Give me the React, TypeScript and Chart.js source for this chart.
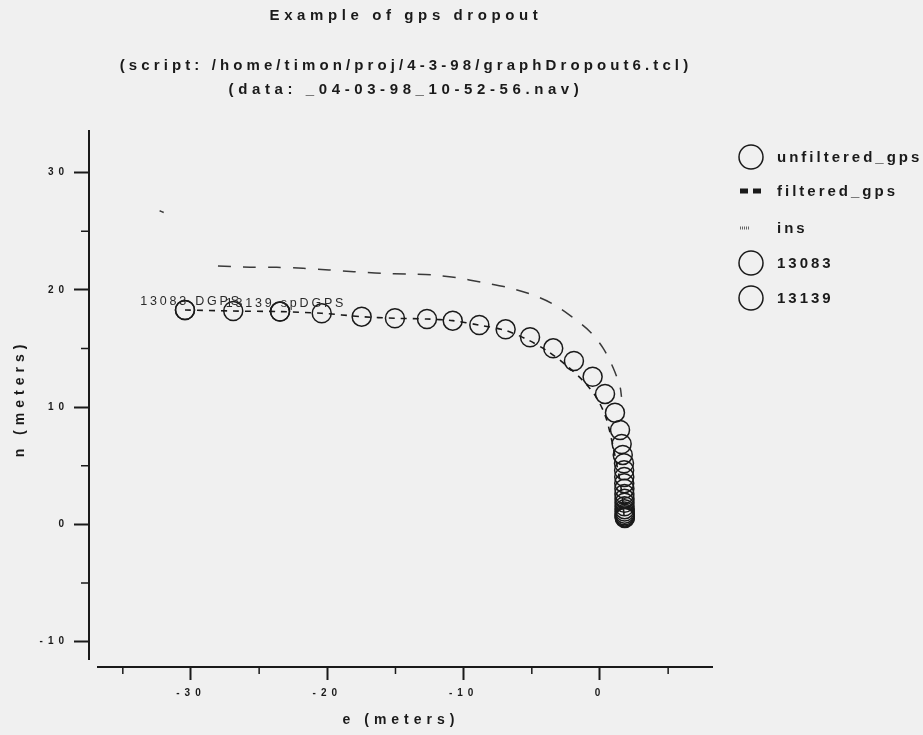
import { useEffect, useRef } from 'react';
import { Chart, registerables } from 'chart.js';

Chart.register(...registerables);

const FONT = '"Liberation Sans", Arial, Helvetica, sans-serif';
const PAPER = '#f0f0f0';
const INK = '#1a1a1a';

const titleLines = [
  'Example of gps dropout',
  '',
  '(script: /home/timon/proj/4-3-98/graphDropout6.tcl)',
  '(data: _04-03-98_10-52-56.nav)',
];

const xLabel = 'e (meters)';
const yLabel = 'n (meters)';

// axis ticks (labelled majors, unlabelled minors)
const xMajor = [-30, -20, -10, 0];
const xMinor = [-35, -25, -15, -5, 5];
const yMajor = [-10, 0, 10, 20, 30];
const yMinor = [-5, 5, 15, 25];

const seriesNames = ['unfiltered_gps', 'filtered_gps', 'ins', '13083', '13139'];

// raw gps fixes (east, north in meters)
const gpsE = [
  -30.44, -26.9, -23.47, -20.41, -17.48, -15.04, -12.69, -10.8, -8.85, -6.92,
  -5.13, -3.43, -1.91, -0.54, 0.37, 1.1, 1.47, 1.59, 1.67, 1.76,
  1.77, 1.78, 1.78, 1.79, 1.79, 1.8, 1.8, 1.8, 1.81, 1.81,
  1.81, 1.81, 1.82, 1.82, 1.82,
];
const gpsN = [
  18.29, 18.2, 18.15, 18.01, 17.72, 17.58, 17.52, 17.38, 17.01, 16.64,
  15.96, 15.02, 13.94, 12.6, 11.13, 9.53, 8.05, 6.86, 5.93, 5.22,
  4.62, 4.05, 3.52, 3.04, 2.6, 2.2, 1.85, 1.55, 1.3, 1.1,
  0.92, 0.78, 0.67, 0.6, 0.55,
];

// filtered gps track
const filtE = [
  -30.44, -26.9, -23.47, -20.41, -17.48, -15.04, -12.69, -10.8, -8.85, -6.95,
  -5.3, -3.75, -2.4, -1.2, -0.3, 0.35, 0.7, 0.95, 1.2, 1.45, 1.65, 1.78,
];
const filtN = [
  18.29, 18.2, 18.15, 18.01, 17.72, 17.58, 17.52, 17.38, 17.0, 16.55,
  15.75, 14.7, 13.5, 12.2, 10.9, 9.4, 8.0, 6.7, 5.3, 3.8, 2.2, 0.55,
];

// ins solution (null = pen up)
const insE = [
  -32.3, -32.0, null,
  -28.02, -25.67, -23.71, -21.78, -19.88, -18.05, -16.06, -14.18, -12.35, -10.51,
  -8.68, -6.84, -5.13, -3.54, -2.08, -0.73, 0.24, 0.98, 1.47, 1.58,
];
const insN = [
  26.75, 26.6, null,
  22.04, 21.93, 21.93, 21.85, 21.7, 21.56, 21.42, 21.36, 21.28, 21.04,
  20.65, 20.23, 19.66, 18.86, 17.72, 16.44, 15.02, 13.32, 11.75, 10.87,
];

// tagged fixes with their text markers
const tagE = [-30.44, -23.47];
const tagN = [18.29, 18.15];
const tagText = ['13083 DGPS', '13139 spDGPS'];

const pts = (xs: (number | null)[], ys: (number | null)[]) =>
  xs.map((x, i) => ({ x, y: ys[i] }));

const circleStyle = {
  showLine: false,
  pointStyle: 'circle',
  pointRadius: 9.5,
  pointBorderWidth: 1.5,
  pointBorderColor: INK,
  pointBackgroundColor: 'rgba(0,0,0,0)',
  borderColor: INK,
  backgroundColor: 'rgba(0,0,0,0)',
};

const decorPlugin = {
  id: 'decor',
  beforeDraw(chart: any) {
    const ctx = chart.ctx;
    ctx.save();
    ctx.fillStyle = PAPER;
    ctx.fillRect(0, 0, chart.width, chart.height);
    ctx.restore();
    ctx.letterSpacing = '5px';
  },
  afterDraw(chart: any) {
    const ctx = chart.ctx;
    const { left, right, top, bottom } = chart.chartArea;
    const xs = chart.scales.x;
    const ys = chart.scales.y;

    ctx.save();
    ctx.strokeStyle = INK;
    ctx.setLineDash([]);

    // detached axis lines
    ctx.lineWidth = 2;
    ctx.beginPath();
    ctx.moveTo(left, top);
    ctx.lineTo(left, bottom - 7);
    ctx.moveTo(left + 8, bottom);
    ctx.lineTo(right, bottom);
    ctx.stroke();

    // minor ticks
    ctx.lineWidth = 1.5;
    ctx.beginPath();
    xMinor.forEach((v) => {
      const px = xs.getPixelForValue(v);
      ctx.moveTo(px, bottom);
      ctx.lineTo(px, bottom + 7);
    });
    yMinor.forEach((v) => {
      const py = ys.getPixelForValue(v);
      ctx.moveTo(left, py);
      ctx.lineTo(left - 8, py);
    });
    ctx.stroke();

    // titles
    ctx.fillStyle = INK;
    ctx.font = `bold 15px ${FONT}`;
    ctx.textAlign = 'center';
    ctx.textBaseline = 'middle';
    const cx = (left + right) / 2 + 5;
    titleLines.forEach((t, i) => {
      if (!t) return;
      ctx.letterSpacing = i === 2 ? '4.1px' : '4.6px';
      ctx.fillText(t, cx, 16 + i * 24.7);
    });

    // text markers at tagged fixes
    ctx.font = `12.5px ${FONT}`;
    ctx.letterSpacing = '2.8px';
    ctx.fillStyle = '#2a2a2a';
    ctx.textBaseline = 'middle';
    [3, 4].forEach((di, k) => {
      const el = chart.getDatasetMeta(di).data[0];
      if (el) ctx.fillText(tagText[k], el.x + 6, el.y - 8.5);
    });

    // legend
    const markX = 751;
    const textX = 777;
    const rowY = [157, 191, 228, 263, 298];
    ctx.textAlign = 'left';
    ctx.font = `bold 15px ${FONT}`;
    ctx.letterSpacing = '3px';
    chart.data.datasets.forEach((ds: any, i: number) => {
      const y = rowY[i];
      ctx.save();
      ctx.strokeStyle = INK;
      if (ds.legendMark === 'circle') {
        ctx.lineWidth = 1.5;
        ctx.beginPath();
        ctx.arc(markX, y, 12, 0, Math.PI * 2);
        ctx.stroke();
      } else if (ds.legendMark === 'dash') {
        ctx.lineWidth = 5;
        ctx.setLineDash([8, 5]);
        ctx.beginPath();
        ctx.moveTo(740, y);
        ctx.lineTo(762, y);
        ctx.stroke();
      } else {
        ctx.strokeStyle = '#666';
        ctx.lineWidth = 3;
        ctx.setLineDash([1, 1]);
        ctx.beginPath();
        ctx.moveTo(740, y);
        ctx.lineTo(749, y);
        ctx.stroke();
      }
      ctx.restore();
      ctx.fillStyle = INK;
      ctx.fillText(ds.label, textX, y + 1);
    });

    ctx.restore();
  },
};

export default function App() {
  const ref = useRef<HTMLCanvasElement>(null);

  useEffect(() => {
    const canvas = ref.current;
    if (!canvas) return;

    const tickFont = { family: FONT, size: 10, weight: 'bold' as const };
    const axisTitleFont = { family: FONT, size: 14, weight: 'bold' as const };

    const chart = new Chart(canvas, {
      type: 'scatter',
      data: {
        datasets: [
          { label: seriesNames[0], data: pts(gpsE, gpsN), legendMark: 'circle', ...circleStyle } as any,
          {
            label: seriesNames[1],
            data: pts(filtE, filtN),
            legendMark: 'dash',
            showLine: true,
            pointRadius: 0,
            borderColor: INK,
            borderWidth: 1.6,
            borderDash: [6, 6],
            tension: 0.3,
          } as any,
          {
            label: seriesNames[2],
            data: pts(insE, insN),
            legendMark: 'dots',
            showLine: true,
            spanGaps: false,
            pointRadius: 0,
            borderColor: '#3a3a3a',
            borderWidth: 1.5,
            borderDash: [13, 12],
            tension: 0.3,
          } as any,
          { label: seriesNames[3], data: pts(tagE.slice(0, 1), tagN.slice(0, 1)), legendMark: 'circle', ...circleStyle } as any,
          { label: seriesNames[4], data: pts(tagE.slice(1, 2), tagN.slice(1, 2)), legendMark: 'circle', ...circleStyle } as any,
        ],
      },
      options: {
        responsive: false,
        animation: false,
        events: [],
        layout: { padding: { left: 0, top: 130, right: 210, bottom: 0 } },
        plugins: {
          legend: { display: false },
          title: { display: false },
          tooltip: { enabled: false },
        },
        scales: {
          x: {
            type: 'linear',
            position: 'bottom',
            min: -37.48,
            max: 8.29,
            afterFit: (s: any) => { s.height = 68; },
            afterBuildTicks: (s: any) => { s.ticks = xMajor.map((v) => ({ value: v })); },
            ticks: {
              callback: (v: any) => String(v),
              font: tickFont,
              color: INK,
              padding: 7,
              maxRotation: 0,
              autoSkip: false,
            },
            grid: {
              display: true,
              drawOnChartArea: false,
              drawTicks: true,
              tickLength: 13,
              tickWidth: 2,
              tickColor: INK,
            },
            border: { display: false },
            title: { display: true, text: xLabel, font: axisTitleFont, color: INK, padding: { top: 4, bottom: 6 } },
          },
          y: {
            type: 'linear',
            position: 'left',
            min: -12.16,
            max: 33.64,
            afterFit: (s: any) => { s.width = 89; },
            afterBuildTicks: (s: any) => { s.ticks = yMajor.map((v) => ({ value: v })); },
            ticks: {
              callback: (v: any) => String(v),
              font: tickFont,
              color: INK,
              padding: 5,
              autoSkip: false,
            },
            grid: {
              display: true,
              drawOnChartArea: false,
              drawTicks: true,
              tickLength: 15,
              tickWidth: 2,
              tickColor: INK,
            },
            border: { display: false },
            title: { display: true, text: yLabel, font: axisTitleFont, color: INK, padding: { top: 12, bottom: 0 } },
          },
        },
      },
      plugins: [decorPlugin],
    } as any);

    return () => chart.destroy();
  }, []);

  return (
    <div style={{ position: 'fixed', left: 0, top: 0, width: 923, height: 735, background: PAPER }}>
      <canvas ref={ref} width={923} height={735} style={{ display: 'block', width: 923, height: 735 }} />
    </div>
  );
}
